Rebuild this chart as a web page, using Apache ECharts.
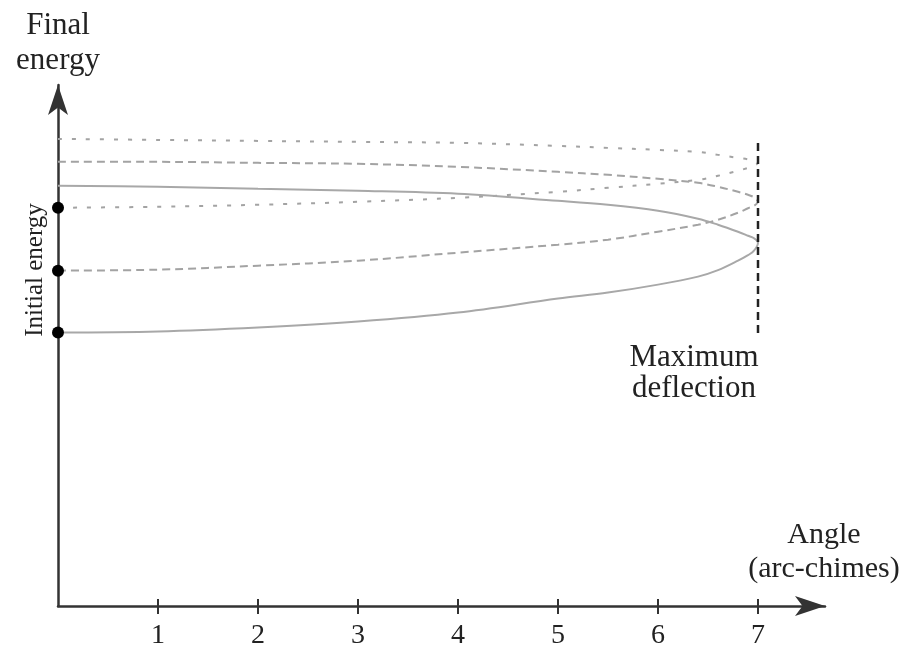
<!DOCTYPE html>
<html>
<head>
<meta charset="utf-8">
<script src="https://cdn.jsdelivr.net/npm/echarts@6/dist/echarts.min.js"></script>
<style>
  html, body { margin: 0; padding: 0; background: #fff; }
  #chart { width: 913px; height: 650px; }
</style>
</head>
<body>
<div id="chart"></div>
<script>
// angle ticks (arc-chimes)
const angleTicks = [1, 2, 3, 4, 5, 6, 7]

// [angle, final energy]: upper branch -> turning point -> lower branch
const solidCurve = [
  [0, 4.21], [1, 4.20], [2, 4.18], [3, 4.16], [4, 4.13], [5, 4.06], [5.5, 4.02], [6.0, 3.96], [6.4, 3.88], [6.6, 3.82], [6.8, 3.75], [6.9, 3.71], [6.96, 3.685],
  [7.0, 3.64],
  [6.96, 3.56], [6.9, 3.515], [6.8, 3.46], [6.6, 3.365], [6.4, 3.30], [6.0, 3.22], [5.5, 3.14], [5, 3.08], [4, 2.94], [3, 2.85], [2, 2.79], [1, 2.75], [0, 2.74]
]
const dashedCurve = [
  [0, 4.45], [1, 4.45], [2, 4.44], [3, 4.43], [4, 4.40], [5, 4.35], [5.5, 4.32], [6.0, 4.28], [6.4, 4.24], [6.6, 4.20], [6.8, 4.15], [6.9, 4.12], [6.96, 4.095],
  [7.0, 4.05],
  [6.96, 4.01], [6.9, 3.985], [6.8, 3.94], [6.6, 3.87], [6.4, 3.82], [6.0, 3.75], [5.5, 3.67], [5, 3.62], [4, 3.54], [3, 3.46], [2, 3.41], [1, 3.37], [0, 3.36]
]
const dottedCurve = [
  [0, 4.68], [1, 4.67], [2, 4.66], [3, 4.65], [4, 4.64], [5, 4.61], [5.5, 4.59], [6.0, 4.57], [6.4, 4.55], [6.6, 4.52], [6.8, 4.49], [6.9, 4.475], [6.96, 4.46],
  [7.0, 4.44],
  [6.96, 4.41], [6.9, 4.39], [6.8, 4.36], [6.6, 4.31], [6.4, 4.27], [6.0, 4.23], [5.5, 4.19], [5, 4.15], [4, 4.09], [3, 4.05], [2, 4.02], [1, 4.00], [0, 3.99]
]
const initialEnergy = [[0, 3.99], [0, 3.36], [0, 2.74]]
const maxDeflection = [[7, 4.64], [7, 2.72]]

const serif = 'Liberation Serif'
const axisColor = '#333'

let myChart = echarts.init(document.getElementById('chart'))

const gridBox = { left: 58, right: 88, top: 85, bottom: 43 }

var option = {
  backgroundColor: '#fff',
  animation: false,
  grid: [
    Object.assign({ containLabel: false }, gridBox),
    Object.assign({ containLabel: false }, gridBox)
  ],
  xAxis: [
    {
      type: 'value', gridIndex: 0, min: 0, max: 7.67,
      splitLine: { show: false },
      axisLine: { show: true, lineStyle: { color: axisColor, width: 2.5 }, symbol: ['none', 'arrow'], symbolSize: [15, 30] },
      axisTick: { show: true, length: 8, customValues: angleTicks, lineStyle: { color: axisColor, width: 2 } },
      axisLabel: { show: true, customValues: angleTicks, margin: 16, color: '#222', fontFamily: serif, fontSize: 28 },
      name: 'Angle\n(arc-chimes)',
      nameLocation: 'end',
      nameGap: -1,
      nameTextStyle: { fontFamily: serif, fontSize: 30, color: '#222', align: 'center', verticalAlign: 'bottom', lineHeight: 34, padding: [0, 0, 20, 0] }
    },
    {
      // inner half of the crossing ticks
      type: 'value', gridIndex: 1, min: 0, max: 7.67,
      splitLine: { show: false },
      axisLine: { show: false },
      axisTick: { show: true, inside: true, length: 8, customValues: angleTicks, lineStyle: { color: axisColor, width: 2 } },
      axisLabel: { show: false }
    }
  ],
  yAxis: [
    {
      type: 'value', gridIndex: 0, min: 0, max: 5.22,
      splitLine: { show: false },
      axisLine: { show: true, lineStyle: { color: axisColor, width: 2.5 }, symbol: ['none', 'arrow'], symbolSize: [15, 30] },
      axisTick: { show: false },
      axisLabel: { show: false },
      name: 'Final\nenergy',
      nameLocation: 'end',
      nameGap: 7,
      nameTextStyle: { fontFamily: serif, fontSize: 31, color: '#222', align: 'center', lineHeight: 35 }
    },
    {
      type: 'value', gridIndex: 1, min: 0, max: 5.22, show: false
    }
  ],
  graphic: [
    {
      type: 'text', x: 694, y: 373,
      style: { text: 'Maximum\ndeflection', font: '31px "Liberation Serif"', fill: '#222', align: 'center', verticalAlign: 'middle', lineHeight: 31 }
    },
    {
      type: 'text', x: 35, y: 270, rotation: Math.PI / 2,
      style: { text: 'Initial energy', font: '25px "Liberation Serif"', fill: '#222', align: 'center', verticalAlign: 'middle' }
    }
  ],
  series: [
    {
      name: 'dotted', type: 'line', data: dottedCurve, smooth: 0.35, symbol: 'none',
      lineStyle: { color: '#a3a3a3', width: 2, type: [4, 10] }
    },
    {
      name: 'dashed', type: 'line', data: dashedCurve, smooth: 0.35, symbol: 'none',
      lineStyle: { color: '#a3a3a3', width: 2, type: [8, 5] }
    },
    {
      name: 'solid', type: 'line', data: solidCurve, smooth: 0.35, symbol: 'none',
      lineStyle: { color: '#a8a8a8', width: 2 }
    },
    {
      name: 'maximum deflection', type: 'line', data: maxDeflection, symbol: 'none',
      lineStyle: { color: '#222', width: 2.5, type: [8, 5] }
    },
    {
      name: 'initial energy', type: 'scatter', data: initialEnergy, symbolSize: 12,
      itemStyle: { color: '#000', opacity: 1 }, z: 5
    }
  ]
}

myChart.setOption(option)
window.addEventListener('resize', function () {
  myChart.resize()
})
</script>
</body>
</html>
